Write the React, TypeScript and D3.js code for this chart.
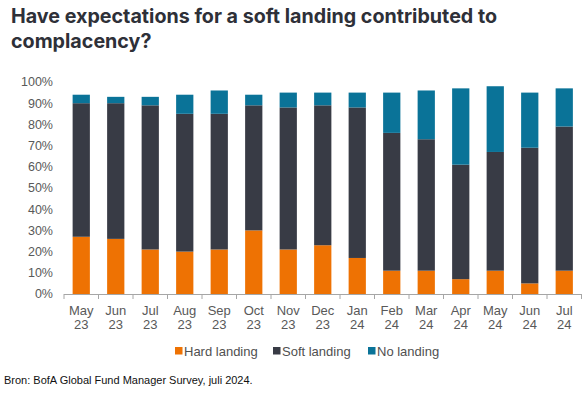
import React, { useEffect, useRef } from "react";
import * as d3 from "d3";

const months = ["May", "Jun", "Jul", "Aug", "Sep", "Oct", "Nov", "Dec", "Jan", "Feb", "Mar", "Apr", "May", "Jun", "Jul"];
const years = ["23", "23", "23", "23", "23", "23", "23", "23", "24", "24", "24", "24", "24", "24", "24"];

const hardLanding = [27, 26, 21, 20, 21, 30, 21, 23, 17, 11, 11, 7, 11, 5, 11];
const softLanding = [63, 64, 68, 65, 64, 59, 67, 66, 71, 65, 62, 54, 56, 64, 68];
const noLanding = [4, 3, 4, 9, 11, 5, 7, 6, 7, 19, 23, 36, 31, 26, 18];

const seriesNames = ["Hard landing", "Soft landing", "No landing"];
const colors = ["#ee7203", "#383b45", "#0a7398"];

const yTicks = [0, 10, 20, 30, 40, 50, 60, 70, 80, 90, 100];

const App = () => {
  const ref = useRef<SVGSVGElement>(null);

  useEffect(() => {
    const svg = d3.select(ref.current);
    svg.selectAll("*").remove();

    const W = 585, H = 393;
    const left = 64, right = 581.5, top = 82, bottom = 294;

    const keys = months.map((m, i) => `${m} ${years[i]} ${i}`);
    const rows = keys.map((k, i) => ({
      key: k,
      "Hard landing": hardLanding[i],
      "Soft landing": softLanding[i],
      "No landing": noLanding[i],
    }));

    const x = d3.scaleBand().domain(keys).range([left, right]).paddingInner(0.5).paddingOuter(0.25);
    const y = d3.scaleLinear().domain([0, 100]).range([bottom, top]);
    const color = d3.scaleOrdinal<string>().domain(seriesNames).range(colors);

    const stacked = d3.stack<any>().keys(seriesNames)(rows);

    svg.append("rect").attr("width", W).attr("height", H).attr("fill", "#fff");

    // title
    const title = svg.append("text")
      .attr("font-family", "Inter, 'Open Sans', sans-serif")
      .attr("font-weight", 700)
      .attr("font-size", 19.7)
      .attr("fill", "#2e3038");
    title.append("tspan").attr("x", 11).attr("y", 23).text("Have expectations for a soft landing contributed to");
    title.append("tspan").attr("x", 11).attr("y", 48).text("complacency?");

    // bars
    svg.append("g")
      .selectAll("g")
      .data(stacked)
      .join("g")
      .attr("fill", (d) => color(d.key))
      .selectAll("rect")
      .data((d) => d)
      .join("rect")
      .attr("x", (d: any) => x(d.data.key)!)
      .attr("y", (d) => y(d[1]))
      .attr("height", (d) => y(d[0]) - y(d[1]))
      .attr("width", x.bandwidth());

    // y axis labels
    svg.append("g")
      .selectAll("text")
      .data(yTicks)
      .join("text")
      .attr("x", 53)
      .attr("y", (d) => y(d))
      .attr("dy", "0.35em")
      .attr("text-anchor", "end")
      .attr("font-family", "'Liberation Sans', Arial, sans-serif")
      .attr("font-size", 12.5)
      .attr("fill", "#595959")
      .text((d) => `${d}%`);

    // x axis
    const axis = svg.append("g");
    axis.append("line")
      .attr("x1", left).attr("x2", right)
      .attr("y1", bottom + 0.5).attr("y2", bottom + 0.5)
      .attr("stroke", "#a6a6a6");
    const step = x.step();
    const bounds = d3.range(keys.length + 1).map((i) => left + i * step);
    axis.selectAll("line.tick")
      .data(bounds)
      .join("line")
      .attr("class", "tick")
      .attr("x1", (d) => d).attr("x2", (d) => d)
      .attr("y1", bottom).attr("y2", bottom + 5)
      .attr("stroke", "#a6a6a6");

    const lbl = axis.selectAll("text")
      .data(keys)
      .join("text")
      .attr("text-anchor", "middle")
      .attr("font-family", "'Liberation Sans', Arial, sans-serif")
      .attr("font-size", 13)
      .attr("fill", "#595959");
    lbl.append("tspan")
      .attr("x", (d) => x(d)! + x.bandwidth() / 2)
      .attr("y", 315)
      .text((d, i) => months[i]);
    lbl.append("tspan")
      .attr("x", (d) => x(d)! + x.bandwidth() / 2)
      .attr("y", 329)
      .text((d, i) => years[i]);

    // legend
    const legendX = [175, 273, 368];
    const lg = svg.append("g")
      .selectAll("g")
      .data(seriesNames)
      .join("g")
      .attr("transform", (d, i) => `translate(${legendX[i]},351)`);
    lg.append("rect")
      .attr("x", 0).attr("y", -4)
      .attr("width", 7.5).attr("height", 7.5)
      .attr("fill", (d) => color(d));
    lg.append("text")
      .attr("x", 9)
      .attr("y", 0)
      .attr("dy", "0.35em")
      .attr("font-family", "'Liberation Sans', Arial, sans-serif")
      .attr("font-size", 13)
      .attr("fill", "#505050")
      .text((d) => d);

    // source
    svg.append("text")
      .attr("x", 4)
      .attr("y", 384)
      .attr("font-family", "'Liberation Sans', Arial, sans-serif")
      .attr("font-size", 11)
      .attr("fill", "#111")
      .text("Bron: BofA Global Fund Manager Survey, juli 2024.");
  }, []);

  return (
    <svg
      ref={ref}
      width={585}
      height={393}
      style={{ position: "absolute", left: 0, top: 0, display: "block" }}
    />
  );
};

export default App;
